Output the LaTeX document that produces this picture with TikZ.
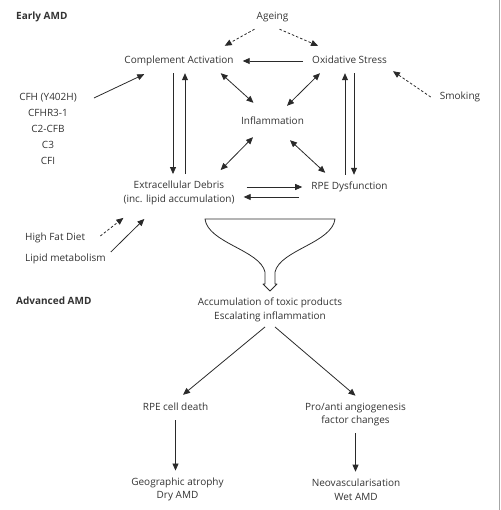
\documentclass[tikz,border=0pt]{standalone}
\usepackage{fontspec}
\setmainfont{Open Sans}
\usetikzlibrary{arrows.meta}
\definecolor{ink}{HTML}{333333}
\definecolor{wire}{HTML}{2A2A2A}
\tikzset{
  factor/.style={font=\fontsize{10}{13.5}\selectfont, text=ink, inner xsep=9pt, inner ysep=7pt,
    text height=7.5pt, text depth=2.5pt},
  stage/.style={font=\fontsize{10}{13.5}\selectfont, text=ink, inner xsep=9pt, inner ysep=7pt, align=center},
  heading/.style={font=\fontsize{10}{12}\selectfont\bfseries, text=ink, anchor=west, inner sep=0pt},
  link/.style={draw=wire, line width=0.8pt, -{Triangle[length=7pt,width=6pt]}},
  twoway/.style={link, {Triangle[length=7pt,width=6pt]}-{Triangle[length=7pt,width=6pt]}},
  risk/.style={link, dash pattern=on 2.5pt off 2pt}
}

\begin{document}
\begin{tikzpicture}[x=1pt, y=-1pt]
  \useasboundingbox (0,0) rectangle (500,510);
  \draw[gray!70, line width=0.8pt] (499.4,0) -- (499.4,510);

  \node[heading] (early) at (16,17) {Early AMD};
  \node[heading] (adv) at (16,301) {Advanced AMD};

  % early stage loop
  \node[factor] (age) at (272.5,17) {Ageing};
  \node[factor] (cpl) at (179,61) {Complement Activation};
  \node[factor] (oxs) at (349.5,61) {Oxidative Stress};
  \node[factor] (inf) at (272.5,122) {Inflammation};
  \node[stage]  (deb) at (179,193) {Extracellular Debris\\(inc. lipid accumulation)};
  \node[factor] (rpe) at (349.5,187) {RPE Dysfunction};
  \node[factor] (smk) at (460,97) {Smoking};
  \foreach \g [count=\i] in {CFH (Y402H), CFHR3-1, C2-CFB, C3, CFI}
    \node[factor] (g\i) at (48,82+16*\i) {\g};
  \node[factor, anchor=west] (fat) at (16,238) {High Fat Diet};
  \node[factor, anchor=west] (lip) at (16,259) {Lipid metabolism};

  \draw[risk] ([xshift=7pt]age.south west) -- ([xshift=-18pt,yshift=3pt]cpl.north east);
  \draw[risk] ([xshift=-18pt]age.south east) -- ([xshift=15pt,yshift=3pt]oxs.north west);
  \draw[link] (oxs.west) -- (cpl.east);
  \draw[link] ([xshift=-6pt]cpl.south) -- ([xshift=-6pt]deb.north);
  \draw[link] ([xshift=6pt]deb.north) -- ([xshift=6pt]cpl.south);
  \draw[link] ([xshift=-4.5pt]rpe.north) -- ([xshift=-4.5pt]oxs.south);
  \draw[link] ([xshift=4.5pt]oxs.south) -- ([xshift=4.5pt]rpe.north);
  \draw[twoway] ([xshift=-22pt]cpl.south east) -- ([xshift=-19pt,yshift=7pt]inf.north);
  \draw[twoway] ([xshift=17pt]oxs.south west) -- ([xshift=14.5pt,yshift=4pt]inf.north);
  \draw[twoway] ([xshift=-19.5pt,yshift=-3pt]inf.south) -- ([xshift=-23pt,yshift=4pt]deb.north east);
  \draw[twoway] ([xshift=17.5pt,yshift=-6pt]inf.south) -- ([xshift=23pt,yshift=2pt]rpe.north west);
  \draw[link] ([xshift=3pt,yshift=6pt]deb.east) -- (rpe.west);
  \draw[link] ([xshift=-3pt,yshift=-10pt]rpe.west) -- ([yshift=-4pt]deb.east);
  \draw[link] ([xshift=8pt]g1.east) -- ([xshift=29pt,yshift=-1pt]cpl.south west);
  \draw[risk] (smk.west) -- ([xshift=-3pt,yshift=2pt]oxs.south east);
  \draw[risk] ([xshift=6pt,yshift=2pt]fat.east) -- ([xshift=9pt,yshift=-6pt]deb.south west);
  \draw[link] ([xshift=-4pt,yshift=7pt]lip.east) -- ([xshift=30pt,yshift=-7pt]deb.south west);

  % funnel into the late stage
  \draw[wire, line width=0.8pt, line join=round]
    (205,219) -- (335,219) .. controls (332,243) and (280,250) .. (275,272)
    -- (275,284) -- (277,284) -- (270,291) -- (263,284) -- (265,284) -- (265,272)
    .. controls (260,250) and (208,243) .. (205,219) -- cycle;

  % advanced stage
  \node[stage] (acc) at (270,310) {Accumulation of toxic products\\Escalating inflammation};
  \node[factor] (die) at (175.5,408) {RPE cell death};
  \node[stage] (ang) at (355.5,414.5) {Pro/anti angiogenesis\\factor changes};
  \node[stage] (geo) at (177.5,489.5) {Geographic atrophy\\Dry AMD};
  \node[stage] (neo) at (356,489.5) {Neovascularisation\\Wet AMD};

  \draw[link] ([xshift=-5pt,yshift=2pt]acc.south) -- ([xshift=7.5pt,yshift=1pt]die.north);
  \draw[link] ([xshift=5pt,yshift=2pt]acc.south) -- (ang.north);
  \draw[link] (die.south) -- (die.south |- geo.north);
  \draw[link] (ang.south) -- (ang.south |- neo.north);
\end{tikzpicture}
\end{document}
